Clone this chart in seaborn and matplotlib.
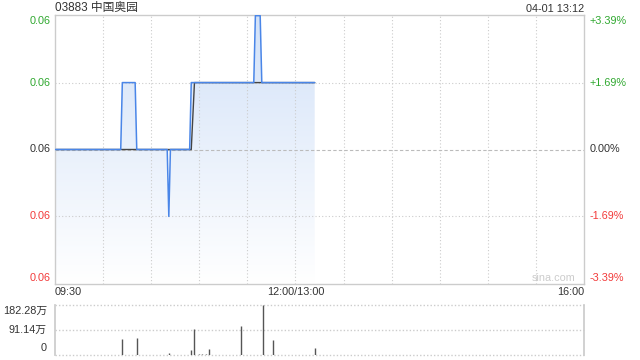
import numpy as np
import pandas as pd
import matplotlib
matplotlib.use("Agg")
import matplotlib.pyplot as plt
import seaborn as sns
from matplotlib.colors import LinearSegmentedColormap
import matplotlib.transforms as mtransforms

# ---------------- data ----------------
title = "03883 中国奥园"
stamp = "04-01 13:12"
prev_close = 0.059
# minutes after 09:30 (lunch break removed; 150 = 12:00/13:00, 330 = 16:00)
price_t = [0, 41, 42, 50, 51, 70, 71, 72, 84, 85, 124, 125, 128, 129, 162]
price_v = [0.059, 0.059, 0.060, 0.060, 0.059, 0.059, 0.058, 0.059, 0.059,
           0.060, 0.060, 0.061, 0.061, 0.060, 0.060]
avg_t = [0, 85, 87, 162]
avg_v = [0.059, 0.059, 0.060, 0.060]
vol_t = [42, 51, 71, 85, 87, 90, 92, 94, 96, 116, 130, 136, 162]
vol_v = [58, 62, 8, 18, 95, 4, 5, 4, 22, 106, 182.28, 55, 27]  # 万
price_levels = [0.061, 0.060, 0.059, 0.058, 0.057]
price_labels = ["0.06", "0.06", "0.06", "0.06", "0.06"]
pct_labels = ["+3.39%", "+1.69%", "0.00%", "-1.69%", "-3.39%"]
vol_ticks = [0, 91.14, 182.28]
vol_labels = ["0", "91.14万", "182.28万"]
x_ticks = [0, 150, 330]
x_labels = ["09:30", "12:00/13:00", "16:00"]

# ---------------- style ----------------
sns.set_theme(style="white")
plt.rcParams['font.family'] = ['Liberation Sans', 'Noto Sans CJK SC', 'DejaVu Sans']
GREEN = "#2fa82f"
RED = "#f23a3a"
DARK = "#333333"
GRID = "#cccccc"
LINE = "#4a86e8"
FS = 7.8

W, H = 640, 360
fig = plt.figure(figsize=(6.4, 3.6), dpi=100)

def px_axes(l, t, r, b):
    return fig.add_axes([l / W, 1 - b / H, (r - l) / W, (b - t) / H])

ax = px_axes(55, 15, 584, 284)
vax = px_axes(55, 305, 584, 355)

df = pd.DataFrame({"t": price_t, "price": price_v})
dfa = pd.DataFrame({"t": avg_t, "avg": avg_v})

ymin, ymax = 0.057, 0.061
lo, hi = ymin - 0.00001, ymax + 0.00001
ax.set_xlim(0, 330)
ax.set_ylim(lo, hi)

# gradient fill under price line
poly = ax.fill_between(price_t, price_v, lo, facecolor="none", edgecolor="none")
cmap = LinearSegmentedColormap.from_list("g", ["#ffffff", "#d3e2f8"])
grad = np.linspace(0, 1, 256).reshape(-1, 1)
im = ax.imshow(grad, cmap=cmap, aspect="auto", origin="lower",
               extent=[0, 330, lo, hi], zorder=1)
im.set_clip_path(poly.get_paths()[0], transform=ax.transData)

# grid
for t in range(30, 330, 30):
    ax.axvline(t, color=GRID, lw=0.8, ls=(0, (1, 2)), zorder=1.5)
for lv in [0.060, 0.058]:
    ax.axhline(lv, color=GRID, lw=0.8, ls=(0, (1, 2)), zorder=1.5)
ax.axhline(0.059, color="#bbbbbb", lw=0.8, ls=(0, (3, 2)), zorder=1.5)

sns.lineplot(data=dfa, x="t", y="avg", ax=ax, color="#444444", lw=1.0, zorder=2)
sns.lineplot(data=df, x="t", y="price", ax=ax, color=LINE, lw=1.1, zorder=3)

for s in ax.spines.values():
    s.set_color(GRID)
    s.set_linewidth(1)
ax.set_xlabel("")
ax.set_ylabel("")
ax.tick_params(length=0)
ax.set_yticks([])
ax.set_xticks([])

# left / right labels
cols = [GREEN, GREEN, DARK, RED, RED]
vas = ["top", "center", "center", "center", "bottom"]
for lv, lab, pct, c, va in zip(price_levels, price_labels, pct_labels, cols, vas):
    ax.text(-2.5, lv, lab, ha="right", va=va, color=c, fontsize=FS)
    ax.text(333.5, lv, pct, ha="left", va=va, color=c, fontsize=FS)

# x labels
has = ["left", "center", "right"]
for t, lab, ha in zip(x_ticks, x_labels, has):
    ax.text(t, -0.03, lab, ha=ha, va="center", color=DARK, fontsize=FS,
            transform=ax.get_xaxis_transform())

ax.text(0, 1.004, title, transform=ax.transAxes, ha="left", va="bottom",
        color=DARK, fontsize=8.5)
ax.text(1, 1.004, stamp, transform=ax.transAxes, ha="right", va="bottom",
        color=DARK, fontsize=FS)
ax.text(0.983, 0.005, "sina.com", transform=ax.transAxes, ha="right", va="bottom",
        color="#cccccc", fontsize=FS)

# volume
vax.set_xlim(0, 330)
vax.set_ylim(0, 182.28)
vax.vlines(vol_t, 0, vol_v, color="#555555", lw=1)
for v in vol_ticks:
    vax.axhline(v, color=GRID, lw=1, ls=(0, (1, 1.5)), zorder=0.5, clip_on=False)
vax.set_xticks([])
vax.set_yticks([])
for k in ["top", "bottom"]:
    vax.spines[k].set_visible(False)
for k in ["left", "right"]:
    vax.spines[k].set_color(GRID)
voff = [7, 0, -6]
for v, lab, o in zip(vol_ticks, vol_labels, voff):
    vax.text(-5, v, lab, ha="right", va="center", color=DARK, fontsize=FS,
             transform=mtransforms.offset_copy(vax.transData, fig=fig, x=0, y=o * 0.72, units="points"))

fig.savefig("out.png", dpi=100)
